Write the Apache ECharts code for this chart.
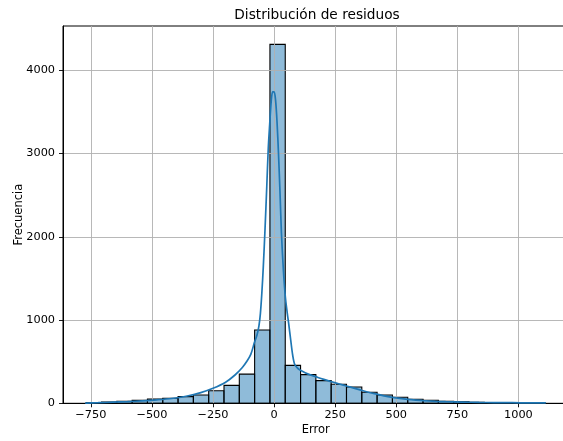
<!DOCTYPE html>
<html>
<head>
<meta charset="utf-8">
<script src="https://cdn.jsdelivr.net/npm/echarts@6/dist/echarts.min.js"></script>
<style>
  html, body { margin: 0; padding: 0; background: #fff; overflow: hidden; }
  #chart { width: 580px; height: 441px; }
</style>
</head>
<body>
<div id="chart"></div>
<script>
// Residual histogram: 30 equal-width bins between the smallest and largest error
const binLow = -769;
const binHigh = 1111;
const binCounts = [
  8, 15, 25, 35, 50, 60, 80, 100, 150, 215, 350, 880,
  4310,
  456, 344, 272, 228, 196, 132, 100, 72, 48, 36, 25, 18, 12, 8, 5, 3, 2
];

// Kernel density estimate, scaled to counts: [error, frequency]
const kdeX = [-773, -720, -660, -600, -540, -480, -420, -360, -300, -250, -200, -160, -130, -110, -95, -80,
              -70, -62, -56, -50, -44, -37, -30, -24, -18, -12, -6, 0, 6, 12, 18, 24, 30, 38, 46, 54,
              60, 68, 76, 84, 95, 106, 140, 170, 200, 232, 264, 296, 330, 359, 390, 420, 450, 484,
              515, 547, 580, 610, 660, 702, 770, 839, 900, 975, 1040, 1112];
const kdeY = [3, 7, 13, 20, 30, 42, 58, 85, 128, 180, 250, 340, 430, 510, 590, 735,
              820, 930, 1080, 1330, 1650, 2100, 2600, 3050, 3350, 3620, 3740, 3740, 3640, 3380, 3000, 2550, 2050, 1600, 1280, 1080,
              950, 760, 580, 470, 425, 400, 350, 320, 290, 262, 235, 208, 180, 155, 130, 110, 90, 72,
              59, 48, 39, 32, 24, 19, 15, 11, 9, 7, 5, 4];

const xTicks = [-750, -500, -250, 0, 250, 500, 750, 1000];
const yTicks = [0, 1000, 2000, 3000, 4000];

const binWidth = (binHigh - binLow) / binCounts.length;
const bins = binCounts.map((c, i) => [binLow + i * binWidth, binLow + (i + 1) * binWidth, c]);
const kde = kdeX.map((x, i) => [x, kdeY[i]]);

const fontFamily = 'DejaVu Sans';
const minusFmt = v => String(v).replace('-', '\u2212');

const chart = echarts.init(document.getElementById('chart'), null, { renderer: 'canvas' });
chart.setOption({
  animation: false,
  backgroundColor: '#fff',
  title: {
    text: 'Distribución de residuos',
    left: 312, top: 3, textAlign: 'center',
    textStyle: { fontFamily, fontSize: 13.7, fontWeight: 'normal', color: '#000' }
  },
  grid: {
    left: 63, top: 26, width: 505.5, height: 377.3,
    outerBoundsMode: 'none', containLabel: false,
    show: true, borderColor: '#000', borderWidth: 1, backgroundColor: 'transparent'
  },
  xAxis: {
    type: 'value', min: -864, max: 1205,
    name: 'Error', nameLocation: 'middle', nameGap: 21, nameMoveOverlap: false,
    nameTextStyle: { fontFamily, fontSize: 11.5, color: '#000', verticalAlign: 'top' },
    axisLine: { show: true, onZero: false, lineStyle: { color: '#000', width: 1 } },
    axisTick: { show: true, length: 4, customValues: xTicks, lineStyle: { color: '#000', width: 0.9 } },
    axisLabel: { customValues: xTicks, formatter: minusFmt, margin: 6, fontFamily, fontSize: 11.3, color: '#000' },
    splitLine: { show: true, lineStyle: { color: '#b0b0b0', width: 0.9 } }
  },
  yAxis: {
    type: 'value', min: 0, max: 4531,
    name: 'Frecuencia', nameLocation: 'middle', nameGap: 38, nameRotate: 90, nameMoveOverlap: false,
    nameTextStyle: { fontFamily, fontSize: 11.5, color: '#000' },
    axisLine: { show: true, onZero: false, lineStyle: { color: '#000', width: 1 } },
    axisTick: { show: true, length: 4, customValues: yTicks, lineStyle: { color: '#000', width: 0.9 } },
    axisLabel: { customValues: yTicks, formatter: v => String(v), margin: 8, fontFamily, fontSize: 11.3, color: '#000' },
    splitLine: { show: true, lineStyle: { color: '#b0b0b0', width: 0.9 } }
  },
  series: [
    {
      type: 'custom',
      z: -1,
      data: bins,
      renderItem: (params, api) => {
        const p0 = api.coord([api.value(0), api.value(2)]);
        const p1 = api.coord([api.value(1), 0]);
        return {
          type: 'rect',
          shape: { x: p0[0], y: p0[1], width: p1[0] - p0[0], height: p1[1] - p0[1] },
          style: { fill: 'rgba(31,119,180,0.5)', stroke: '#000', lineWidth: 1.1 }
        };
      }
    },
    {
      type: 'line',
      data: kde,
      smooth: 0.3,
      showSymbol: false,
      lineStyle: { color: '#1f77b4', width: 1.7 },
      z: 3
    }
  ]
});
</script>
</body>
</html>
